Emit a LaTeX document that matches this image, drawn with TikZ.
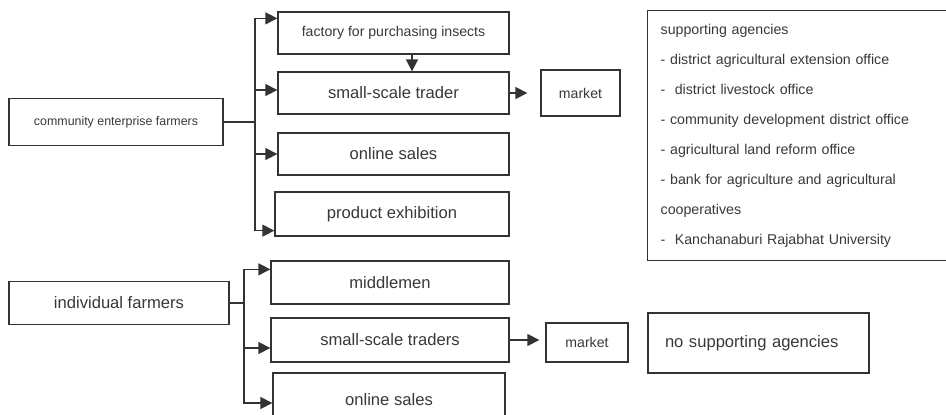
\documentclass[tikz,border=0pt]{standalone}
\usepackage{fontspec}
\setmainfont{Liberation Sans}
\usetikzlibrary{arrows.meta}
\definecolor{linegray}{HTML}{333333}
\definecolor{textgray}{HTML}{383838}
\def\thickness{1.3pt}
\tikzstyle{box}=[draw=linegray, line width=\thickness, text=textgray, inner sep=0pt, align=center]
\tikzstyle{big}=[font=\fontsize{16.6}{20}\selectfont]
\tikzstyle{mid}=[font=\fontsize{14.1}{17}\selectfont]
\tikzstyle{small}=[font=\fontsize{12.4}{15}\selectfont]
\tikzstyle{flow}=[draw=linegray, line width=\thickness, -{Triangle[length=12pt,width=12pt]}]

\begin{document}
\begin{tikzpicture}[x=1pt, y=-1pt]
\path[use as bounding box] (0,0) rectangle (946,415);
\clip (0,0) rectangle (946,415);
\node[box, small, minimum width=214, minimum height=47] (cef) at (116,122) {community enterprise farmers};
\node[box, mid, minimum width=231, minimum height=42] (factory) at (393.5,33) {factory for purchasing insects};
\node[box, big, minimum width=231, minimum height=42] (trader) at (393.5,93) {small-scale trader};
\node[box, big, minimum width=231, minimum height=42] (online1) at (393.5,154) {online sales};
\node[box, big, minimum width=234, minimum height=44] (exhib) at (392,214) {product exhibition};
\node[box, mid, minimum width=79, minimum height=46] (market1) at (580.5,93) {market};
\node[box, anchor=north west, minimum width=330, minimum height=250, text width=304, inner xsep=13pt, align=left, font=\fontsize{14.2}{30}\selectfont] (support) at (647,10) {supporting agencies\\- district agricultural extension office\\- \ district livestock office\\- community development district office\\- agricultural land reform office\\- bank for agriculture and agricultural\\cooperatives\\- \ Kanchanaburi Rajabhat University};
\node[box, big, minimum width=220, minimum height=43] (ind) at (119,303) {individual farmers};
\node[box, big, minimum width=238, minimum height=43] (middle) at (390,282.5) {middlemen};
\node[box, big, minimum width=238, minimum height=44] (traders) at (390,340) {small-scale traders};
\node[box, mid, minimum width=82, minimum height=39] (market2) at (587,342.5) {\raisebox{-3pt}{market}};
\node[box, big, minimum width=232, minimum height=54] (online2) at (389,400) {online sales};
\node[box, big, minimum width=221, minimum height=60, text width=187, inner xsep=17pt, align=left] (nosup) at (758.5,343) {\raisebox{4pt}{no supporting agencies}};
\coordinate (fork1) at (255,0);
\coordinate (fork2) at (244,0);
\coordinate (in1) at ([yshift=-7pt]factory.north west);
\coordinate (in2) at ([yshift=3pt]trader.west);
\coordinate (in3) at (online1.west);
\coordinate (in4) at ([yshift=6pt]exhib.south west);
\coordinate (in5) at ([yshift=-9pt]middle.north west);
\coordinate (in6) at ([yshift=-8pt]traders.west);
\coordinate (in7) at ([yshift=-3pt]online2.west);
\foreach \t in {in1,in2,in3,in4}
  \draw[flow] (cef.east) -- (cef.east -| fork1) |- (\t);
\foreach \t in {in5,in6,in7}
  \draw[flow] (ind.east) -- (ind.east -| fork2) |- (\t);
\draw[flow] ([xshift=18.5pt]factory.south) -- ([xshift=18.5pt]trader.north);
\draw[flow, shorten >=13pt] (trader.east) -- (market1.west);
\draw[flow, shorten >=6pt] (traders.east) -- (traders.east -| market2.west);
\end{tikzpicture}
\end{document}
